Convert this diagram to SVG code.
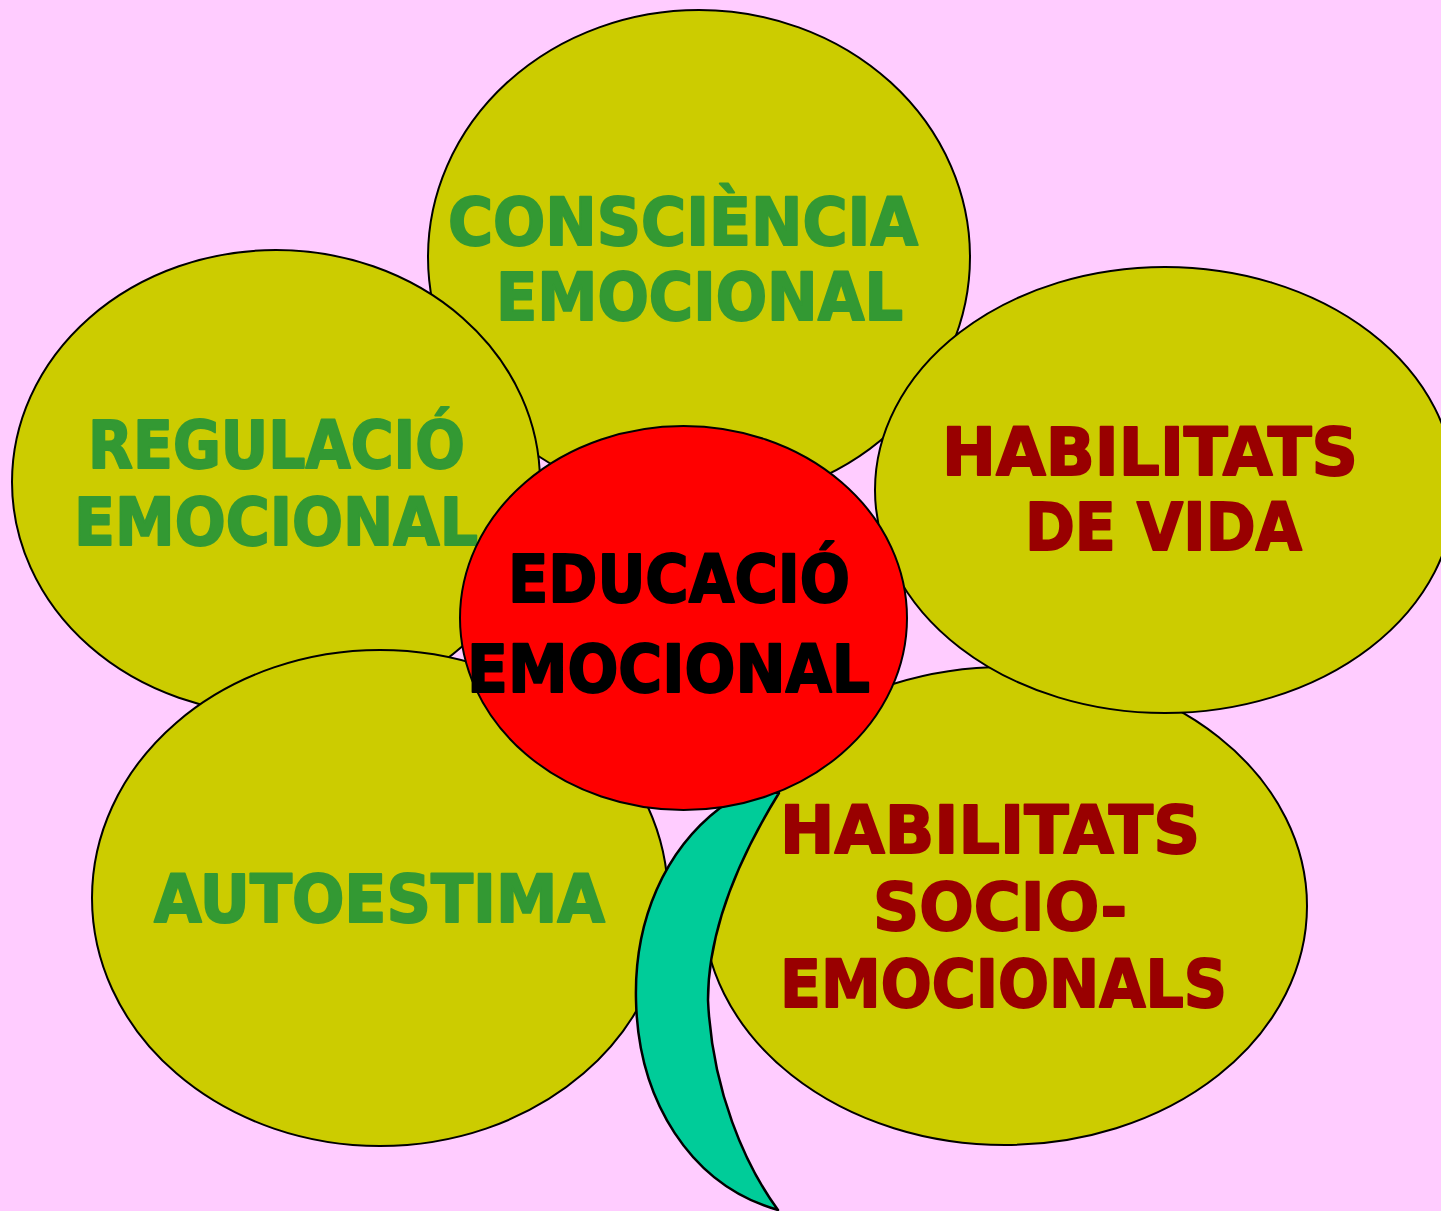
<svg xmlns="http://www.w3.org/2000/svg" width="1441" height="1211" viewBox="0 0 1441 1211">
<style>
.petal{fill:#CCCC00;stroke:#000;stroke-width:2}
.center{fill:#FF0000;stroke:#000;stroke-width:2}
.stem{fill:#00CC99;stroke:#000;stroke-width:2.5;stroke-linejoin:round}
text{font-family:"DejaVu Sans","Liberation Sans",sans-serif;font-weight:bold;font-size:66px;stroke-width:2;stroke-linejoin:round;lengthAdjust:spacingAndGlyphs}
.g{fill:#339933;stroke:#339933}
.r{fill:#990000;stroke:#990000}
.k{fill:#000;stroke:#000}
</style>
<rect x="0" y="0" width="1441" height="1211" fill="#FFCCFF"/>
<g id="node-consciencia">
<ellipse class="petal" cx="699" cy="257" rx="271" ry="247"/>
<text class="g" x="448" y="245" textLength="470" lengthAdjust="spacingAndGlyphs">CONSCIÈNCIA</text>
<text class="g" x="496" y="320" textLength="407" lengthAdjust="spacingAndGlyphs">EMOCIONAL</text>
</g>
<g id="node-regulacio">
<ellipse class="petal" cx="276" cy="482" rx="264" ry="232"/>
<text class="g" x="88" y="468" textLength="377" lengthAdjust="spacingAndGlyphs">REGULACIÓ</text>
<text class="g" x="74" y="545" textLength="404" lengthAdjust="spacingAndGlyphs">EMOCIONAL</text>
</g>
<g id="node-socioemocionals">
<ellipse class="petal" cx="1005" cy="906" rx="302" ry="239"/>
<text class="r" x="780" y="853" textLength="420" lengthAdjust="spacingAndGlyphs">HABILITATS</text>
<text class="r" x="873" y="930" textLength="254" lengthAdjust="spacingAndGlyphs">SOCIO-</text>
<text class="r" x="780" y="1007" textLength="447" lengthAdjust="spacingAndGlyphs">EMOCIONALS</text>
</g>
<g id="node-vida">
<ellipse class="petal" cx="1165" cy="490" rx="290" ry="223"/>
<text class="r" x="942" y="475" textLength="416" lengthAdjust="spacingAndGlyphs">HABILITATS</text>
<text class="r" x="1025" y="550" textLength="277" lengthAdjust="spacingAndGlyphs">DE VIDA</text>
</g>
<g id="node-autoestima">
<ellipse class="petal" cx="380" cy="898" rx="288" ry="248"/>
<text class="g" x="154" y="922" textLength="451" lengthAdjust="spacingAndGlyphs">AUTOESTIMA</text>
</g>
<g id="connectors">
<path class="stem" d="M779,793 C750,840 708,920 708,1000 C712,1090 745,1165 778,1210 C690,1185 638,1100 636,1000 C634,920 665,850 720,808 L750,790 Z"/>
</g>
<g id="node-educacio">
<ellipse class="center" cx="683.5" cy="618" rx="223.5" ry="192"/>
<text class="k" x="508" y="602" textLength="342" lengthAdjust="spacingAndGlyphs">EDUCACIÓ</text>
<text class="k" x="467" y="692" textLength="403" lengthAdjust="spacingAndGlyphs">EMOCIONAL</text>
</g>
</svg>
